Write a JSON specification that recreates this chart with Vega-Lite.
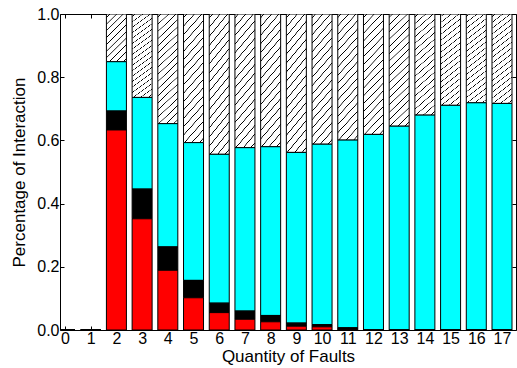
{
  "$schema": "https://vega.github.io/schema/vega-lite/v6.json",
  "width": 456,
  "height": 316,
  "autosize": "none",
  "padding": {"left": 60, "top": 14, "right": 1, "bottom": 38},
  "background": "white",
  "config": {
    "view": {"stroke": "black", "strokeWidth": 1},
    "axis": {
      "labelFont": "Liberation Sans",
      "titleFont": "Liberation Sans",
      "labelFontSize": 16,
      "titleFontSize": 17,
      "titleFontWeight": "normal",
      "labelColor": "black",
      "titleColor": "black",
      "domain": false,
      "grid": false,
      "tickColor": "black",
      "tickSize": -4,
      "tickWidth": 1
    }
  },
  "data": {
    "values": [
      {"q": 0, "red": 0, "black": 0, "cyan": 0, "top": 0},
      {"q": 1, "red": 0, "black": 0, "cyan": 0, "top": 0},
      {"q": 2, "red": 0.633, "black": 0.693, "cyan": 0.849, "top": 1},
      {"q": 3, "red": 0.352, "black": 0.446, "cyan": 0.736, "top": 1},
      {"q": 4, "red": 0.189, "black": 0.263, "cyan": 0.653, "top": 1},
      {"q": 5, "red": 0.102, "black": 0.157, "cyan": 0.593, "top": 1},
      {"q": 6, "red": 0.055, "black": 0.085, "cyan": 0.556, "top": 1},
      {"q": 7, "red": 0.034, "black": 0.06, "cyan": 0.577, "top": 1},
      {"q": 8, "red": 0.026, "black": 0.046, "cyan": 0.58, "top": 1},
      {"q": 9, "red": 0.012, "black": 0.022, "cyan": 0.562, "top": 1},
      {"q": 10, "red": 0.01, "black": 0.017, "cyan": 0.588, "top": 1},
      {"q": 11, "red": 0.002, "black": 0.007, "cyan": 0.601, "top": 1},
      {"q": 12, "red": 0, "black": 0, "cyan": 0.619, "top": 1},
      {"q": 13, "red": 0, "black": 0, "cyan": 0.645, "top": 1},
      {"q": 14, "red": 0, "black": 0, "cyan": 0.68, "top": 1},
      {"q": 15, "red": 0, "black": 0, "cyan": 0.711, "top": 1},
      {"q": 16, "red": 0, "black": 0, "cyan": 0.719, "top": 1},
      {"q": 17, "red": 0, "black": 0, "cyan": 0.717, "top": 1}
    ]
  },
  "resolve": {"axis": {"x": "independent", "y": "independent"}},
  "layer": [
    {
      "mark": {"type": "bar", "width": 20, "clip": true, "stroke": "black", "strokeWidth": 1},
      "encoding": {
        "x": {"field": "q", "type": "quantitative", "scale": {"domain": [0, 17.35], "nice": false, "zero": false},
              "axis": {"orient": "top", "values": [0,1,2,3,4,5,6,7,8,9,10,11,12,13,14,15,16,17], "labels": false, "title": null}},
        "y": {"field": "top", "type": "quantitative", "scale": {"domain": [0, 1], "nice": false},
              "axis": {"orient": "right", "values": [0, 0.2, 0.4, 0.6, 0.8, 1], "labels": false, "title": null}},
        "y2": {"field": "cyan"},
        "fill": {
          "condition": {
            "test": "datum.q == 2",
            "value": {
              "gradient": "linear", "x1": 0, "y1": 0, "x2": 0.503, "y2": 1.207,
              "stops": [
                {"offset": 0, "color": "white"},
                {"offset": 0.04, "color": "white"}, {"offset": 0.046, "color": "black"}, {"offset": 0.054, "color": "black"}, {"offset": 0.06, "color": "white"},
                {"offset": 0.14, "color": "white"}, {"offset": 0.146, "color": "black"}, {"offset": 0.154, "color": "black"}, {"offset": 0.16, "color": "white"},
                {"offset": 0.24, "color": "white"}, {"offset": 0.246, "color": "black"}, {"offset": 0.254, "color": "black"}, {"offset": 0.26, "color": "white"},
                {"offset": 0.34, "color": "white"}, {"offset": 0.346, "color": "black"}, {"offset": 0.354, "color": "black"}, {"offset": 0.36, "color": "white"},
                {"offset": 0.44, "color": "white"}, {"offset": 0.446, "color": "black"}, {"offset": 0.454, "color": "black"}, {"offset": 0.46, "color": "white"},
                {"offset": 0.54, "color": "white"}, {"offset": 0.546, "color": "black"}, {"offset": 0.554, "color": "black"}, {"offset": 0.56, "color": "white"},
                {"offset": 0.64, "color": "white"}, {"offset": 0.646, "color": "black"}, {"offset": 0.654, "color": "black"}, {"offset": 0.66, "color": "white"},
                {"offset": 0.74, "color": "white"}, {"offset": 0.746, "color": "black"}, {"offset": 0.754, "color": "black"}, {"offset": 0.76, "color": "white"},
                {"offset": 0.84, "color": "white"}, {"offset": 0.846, "color": "black"}, {"offset": 0.854, "color": "black"}, {"offset": 0.86, "color": "white"},
                {"offset": 0.94, "color": "white"}, {"offset": 0.946, "color": "black"}, {"offset": 0.954, "color": "black"}, {"offset": 0.96, "color": "white"},
                {"offset": 1, "color": "white"}
              ]
            }
          },
          "value": {
            "gradient": "linear", "x1": 0, "y1": 0, "x2": 0.198, "y2": 1.14,
            "stops": [
              {"offset": 0, "color": "white"},
              {"offset": 0.02, "color": "white"}, {"offset": 0.023, "color": "black"}, {"offset": 0.027, "color": "black"}, {"offset": 0.03, "color": "white"},
              {"offset": 0.0755, "color": "white"}, {"offset": 0.0785, "color": "black"}, {"offset": 0.0825, "color": "black"}, {"offset": 0.0855, "color": "white"},
              {"offset": 0.131, "color": "white"}, {"offset": 0.134, "color": "black"}, {"offset": 0.138, "color": "black"}, {"offset": 0.141, "color": "white"},
              {"offset": 0.1865, "color": "white"}, {"offset": 0.1895, "color": "black"}, {"offset": 0.1935, "color": "black"}, {"offset": 0.1965, "color": "white"},
              {"offset": 0.242, "color": "white"}, {"offset": 0.245, "color": "black"}, {"offset": 0.249, "color": "black"}, {"offset": 0.252, "color": "white"},
              {"offset": 0.2975, "color": "white"}, {"offset": 0.3005, "color": "black"}, {"offset": 0.3045, "color": "black"}, {"offset": 0.3075, "color": "white"},
              {"offset": 0.353, "color": "white"}, {"offset": 0.356, "color": "black"}, {"offset": 0.36, "color": "black"}, {"offset": 0.363, "color": "white"},
              {"offset": 0.4085, "color": "white"}, {"offset": 0.4115, "color": "black"}, {"offset": 0.4155, "color": "black"}, {"offset": 0.4185, "color": "white"},
              {"offset": 0.464, "color": "white"}, {"offset": 0.467, "color": "black"}, {"offset": 0.471, "color": "black"}, {"offset": 0.474, "color": "white"},
              {"offset": 0.5195, "color": "white"}, {"offset": 0.5225, "color": "black"}, {"offset": 0.5265, "color": "black"}, {"offset": 0.5295, "color": "white"},
              {"offset": 0.575, "color": "white"}, {"offset": 0.578, "color": "black"}, {"offset": 0.582, "color": "black"}, {"offset": 0.585, "color": "white"},
              {"offset": 0.6305, "color": "white"}, {"offset": 0.6335, "color": "black"}, {"offset": 0.6375, "color": "black"}, {"offset": 0.6405, "color": "white"},
              {"offset": 0.686, "color": "white"}, {"offset": 0.689, "color": "black"}, {"offset": 0.693, "color": "black"}, {"offset": 0.696, "color": "white"},
              {"offset": 0.7415, "color": "white"}, {"offset": 0.7445, "color": "black"}, {"offset": 0.7485, "color": "black"}, {"offset": 0.7515, "color": "white"},
              {"offset": 0.797, "color": "white"}, {"offset": 0.8, "color": "black"}, {"offset": 0.804, "color": "black"}, {"offset": 0.807, "color": "white"},
              {"offset": 0.8525, "color": "white"}, {"offset": 0.8555, "color": "black"}, {"offset": 0.8595, "color": "black"}, {"offset": 0.8625, "color": "white"},
              {"offset": 0.908, "color": "white"}, {"offset": 0.911, "color": "black"}, {"offset": 0.915, "color": "black"}, {"offset": 0.918, "color": "white"},
              {"offset": 0.9635, "color": "white"}, {"offset": 0.9665, "color": "black"}, {"offset": 0.9705, "color": "black"}, {"offset": 0.9735, "color": "white"},
              {"offset": 1, "color": "white"}
            ]
          }
        }
      }
    },
    {
      "mark": {"type": "bar", "width": 20, "clip": true, "stroke": "black", "strokeWidth": 1, "fill": "#00ffff"},
      "encoding": {
        "x": {"field": "q", "type": "quantitative", "scale": {"domain": [0, 17.35], "nice": false, "zero": false}, "axis": null},
        "y": {"field": "cyan", "type": "quantitative", "scale": {"domain": [0, 1], "nice": false}, "axis": null},
        "y2": {"field": "black"}
      }
    },
    {
      "mark": {"type": "bar", "width": 20, "clip": true, "stroke": "black", "strokeWidth": 1, "fill": "#000000"},
      "encoding": {
        "x": {"field": "q", "type": "quantitative", "scale": {"domain": [0, 17.35], "nice": false, "zero": false}, "axis": null},
        "y": {"field": "black", "type": "quantitative", "scale": {"domain": [0, 1], "nice": false}, "axis": null},
        "y2": {"field": "red"}
      }
    },
    {
      "mark": {"type": "bar", "width": 20, "clip": true, "stroke": "black", "strokeWidth": 1, "fill": "#ff0000"},
      "encoding": {
        "x": {"field": "q", "type": "quantitative", "scale": {"domain": [0, 17.35], "nice": false, "zero": false},
              "axis": {"orient": "bottom", "values": [0,1,2,3,4,5,6,7,8,9,10,11,12,13,14,15,16,17], "format": "d", "title": "Quantity of Faults", "labelPadding": 4, "titlePadding": 2}},
        "y": {"field": "red", "type": "quantitative", "scale": {"domain": [0, 1], "nice": false},
              "axis": {"orient": "left", "values": [0, 0.2, 0.4, 0.6, 0.8, 1], "format": ".1f", "title": "Percentage of Interaction", "labelPadding": 5, "titlePadding": 8}}
      }
    }
  ]
}
